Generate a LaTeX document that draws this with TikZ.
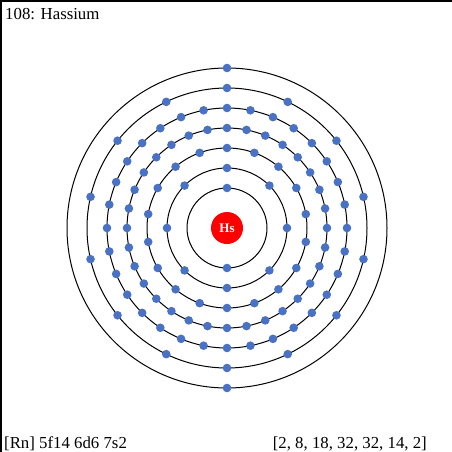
\documentclass[tikz,border=0pt]{standalone}
\usepackage{fontspec}
\setmainfont{Liberation Serif}
\definecolor{electron}{HTML}{4A72C4}

\begin{document}
\begin{tikzpicture}[x=1pt, y=-1pt, font=\fontsize{16.8}{20}\selectfont]
  \useasboundingbox (0,0) rectangle (452,452);
  \fill[white] (0,0) rectangle (452,452);
  \draw[black, line width=2pt] (1,452) -- (1,1) -- (452,1);

  % shells and electrons, inner to outer
  \foreach \r/\n in {40/2, 60/8, 80/18, 100/32, 120/32, 140/14, 160/2} {
    \draw[black, line width=1pt] (227,228) circle (\r);
    \foreach \k in {1,...,\n}
      \fill[electron] ({227+\r*sin(360*(\k-1)/\n)},{228-\r*cos(360*(\k-1)/\n)}) circle (4.3);
  }

  % nucleus
  \node[circle, fill=red, minimum size=32pt, inner sep=0pt, text=white,
        font=\fontsize{13}{15}\selectfont\bfseries] (nucleus) at (227,228) {Hs};

  % labels
  \node[anchor=base west, inner sep=0pt] (title) at (5,20) {108: Hassium};
  \node[anchor=base west, inner sep=0pt] (config) at (4,448) {[Rn] 5f14 6d6 7s2};
  \node[anchor=base east, inner sep=0pt] (shells) at (427,448) {[2, 8, 18, 32, 32, 14, 2]};
\end{tikzpicture}
\end{document}
